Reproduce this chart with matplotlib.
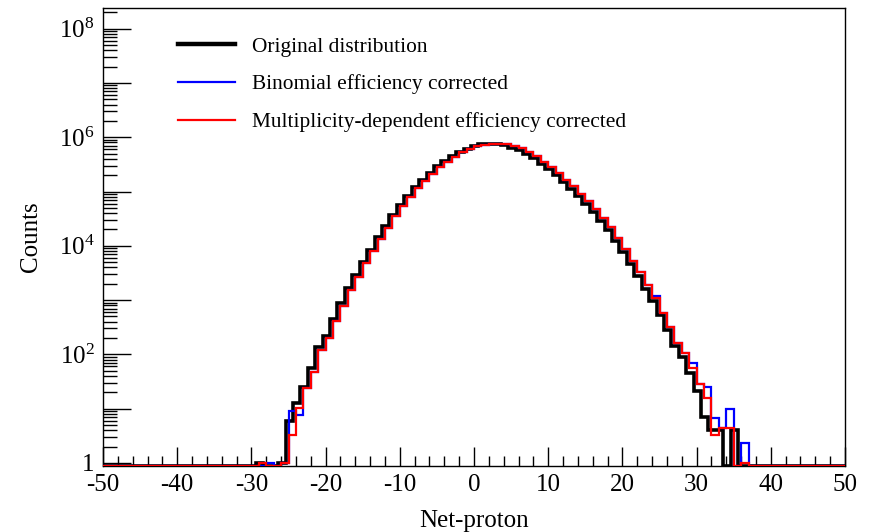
import numpy as np
import matplotlib
matplotlib.use("Agg")
import matplotlib.pyplot as plt
from matplotlib.lines import Line2D

# ---------------- data ----------------
net_proton = list(range(-29, 37))

original = [1, 0, 0, 1, 6, 13, 25, 55, 138, 214,
            457, 871, 1660, 2884, 5129, 8318, 14450, 22900, 37150, 56230,
            83180, 120200, 166000, 223900, 295100, 371500, 446700, 537000, 616600, 691800,
            741300, 758600, 741300, 707900, 645700, 575400, 489800, 407400, 323600, 257000,
            199500, 151400, 112200, 81280, 58880, 41690, 28840, 19500, 12300, 7586,
            4571, 2754, 1622, 955, 525, 282, 145, 91, 45, 21,
            7, 4, 4, 0, 4, 0]

multiplicity_corr = [1, 0, 0, 1, 3.3, 10.5, 24, 48, 120, 200,
                     417, 794, 1514, 2692, 4786, 7943, 13490, 21380, 34670, 53700,
                     79430, 114800, 158500, 213800, 281800, 354800, 436500, 524800, 602600, 676100,
                     724400, 758600, 758600, 741300, 691800, 631000, 537000, 446700, 354800, 281800,
                     218800, 166000, 125900, 91200, 66070, 47860, 33110, 22390, 13800, 8710,
                     5248, 3236, 1862, 1096, 589, 324, 162, 107, 56, 28,
                     15.5, 3.3, 4.4, 4.4, 0, 1]

binomial_corr = [0, 1, 0, 1, 9.1, 7.6, 24, 48, 120, 200,
                 417, 794, 1514, 2692, 4786, 7943, 13490, 21380, 34670, 53700,
                 79430, 114800, 158500, 213800, 281800, 354800, 436500, 524800, 602600, 676100,
                 724400, 758600, 758600, 741300, 691800, 631000, 537000, 446700, 354800, 281800,
                 218800, 166000, 125900, 91200, 66070, 47860, 33110, 22390, 13800, 8710,
                 5248, 3236, 1862, 1202, 589, 324, 162, 107, 69, 28,
                 25, 6.6, 4.4, 10, 0, 2.3]

labels = ["Original distribution",
          "Binomial efficiency corrected",
          "Multiplicity-dependent efficiency corrected"]
x_ticks = [-50, -40, -30, -20, -10, 0, 10, 20, 30, 40, 50]
y_label_exps = [0, 2, 4, 6, 8]

# ---------------- style ----------------
plt.rcParams["font.family"] = ["Liberation Serif", "DejaVu Serif"]
plt.rcParams["mathtext.fontset"] = "custom"
plt.rcParams["mathtext.rm"] = "Liberation Serif"
plt.rcParams["mathtext.it"] = "Liberation Serif:italic"

W, H = 871, 532
fig = plt.figure(figsize=(W / 100, H / 100), dpi=100)
ax = fig.add_axes([103 / W, 1 - 466 / H, (845 - 103) / W, (466 - 8) / H])

YMIN, YMAX = 0.88, 2.4e8
ORIG_BIN_SHIFT = -0.4   # the original histogram is drawn slightly left of the corrected ones
n_full = np.arange(-50, 51)


def expand(vals):
    arr = np.zeros(n_full.size)
    idx = np.searchsorted(n_full, net_proton)
    arr[idx] = vals
    return np.where(arr > 0, arr, YMIN)


edges_corr = np.append(n_full, n_full[-1] + 1).astype(float)
edges_orig = edges_corr + ORIG_BIN_SHIFT

ax.stairs(expand(original), edges_orig, color="black", lw=2.6, baseline=None, zorder=3)
ax.stairs(expand(binomial_corr), edges_corr, color="#0000ff", lw=1.6, baseline=None, zorder=4)
ax.stairs(expand(multiplicity_corr), edges_corr, color="#ff0000", lw=1.6, baseline=None, zorder=5)

ax.set_yscale("log")
ax.set_xlim(-50, 50)
ax.set_ylim(YMIN, YMAX)

# x ticks
ax.set_xticks(x_ticks)
ax.set_xticklabels([str(v) for v in x_ticks])
ax.set_xticks(np.arange(-50, 51, 2), minor=True)
# y ticks
maj = [10.0 ** k for k in range(0, 9)]
ax.set_yticks(maj)
ax.set_yticklabels(["1" if k == 0 else (r"$10^{%d}$" % k if k in y_label_exps else "")
                    for k in range(0, 9)])
minor = [m * 10.0 ** k for k in range(0, 9) for m in range(2, 10) if m * 10.0 ** k < YMAX]
ax.set_yticks(minor, minor=True)
ax.yaxis.set_minor_formatter(matplotlib.ticker.NullFormatter())

ax.tick_params(axis="both", which="both", direction="in", top=False, right=False,
               labelsize=18, width=1.0, color="black")
ax.tick_params(axis="x", which="major", length=14, pad=6)
ax.tick_params(axis="x", which="minor", length=7)
ax.tick_params(axis="y", which="major", length=20, pad=6)
ax.tick_params(axis="y", which="minor", length=10)
for s in ax.spines.values():
    s.set_linewidth(1.0)

ax.set_xlabel("Net-proton", fontsize=18, labelpad=10)
ax.set_ylabel("Counts", fontsize=18, labelpad=12)

handles = [Line2D([], [], color="black", lw=3.2),
           Line2D([], [], color="#0000ff", lw=1.6),
           Line2D([], [], color="#ff0000", lw=1.6)]
ax.legend(handles, labels, loc="upper left", bbox_to_anchor=(178 / W, 1 - 37 / H),
          bbox_transform=fig.transFigure, frameon=False, fontsize=15.4,
          handlelength=2.66, handletextpad=0.8, labelspacing=0.82, borderpad=0,
          borderaxespad=0)

fig.savefig("out.png", dpi=100)
